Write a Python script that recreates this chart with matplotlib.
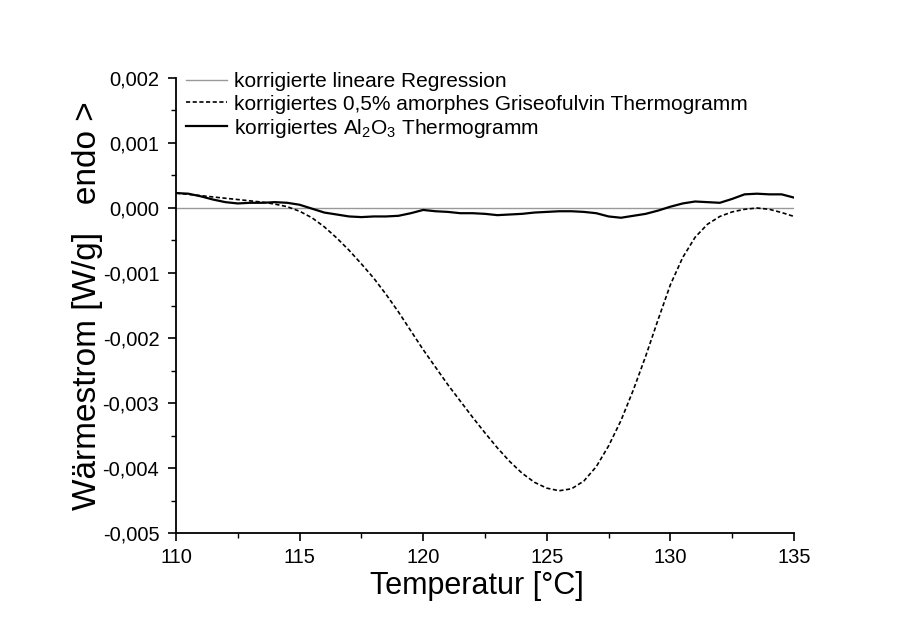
import matplotlib
matplotlib.use("Agg")
import matplotlib.pyplot as plt
from matplotlib.ticker import FuncFormatter, MultipleLocator

plt.rcParams["font.family"] = ["Liberation Sans", "DejaVu Sans"]
plt.rcParams["mathtext.fontset"] = "custom"
plt.rcParams["mathtext.rm"] = "Liberation Sans"
plt.rcParams["mathtext.it"] = "Liberation Sans:italic"

# Temperatur [°C] / Wärmestrom [W/g]
regression_T = [110.0, 135.0]
regression_q = [0.0, 0.0]

griseo_T = [110.0, 110.5, 111.0, 111.5, 112.0, 112.5, 113.0, 113.5, 114.0, 114.5,
            115.0, 115.5, 116.0, 116.5, 117.0, 117.5, 118.0, 118.5, 119.0, 119.5,
            120.0, 120.5, 121.0, 121.5, 122.0, 122.5, 123.0, 123.5, 124.0, 124.5,
            125.0, 125.5, 126.0, 126.5, 127.0, 127.5, 128.0, 128.5, 129.0, 129.5,
            130.0, 130.5, 131.0, 131.5, 132.0, 132.5, 133.0, 133.5, 134.0, 134.5,
            135.0]
griseo_q = [0.00023, 0.00021, 0.00019, 0.00017, 0.00015, 0.00013, 0.00011, 0.00009, 0.00006, 0.00002,
            -0.00005, -0.00015, -0.00029, -0.00046, -0.00065, -0.00086, -0.00108, -0.00133, -0.00160, -0.00189,
            -0.00218, -0.00245, -0.00272, -0.00297, -0.00322, -0.00346, -0.00369, -0.00390, -0.00408, -0.00422,
            -0.00431, -0.00435, -0.00432, -0.00420, -0.00398, -0.00366, -0.00327, -0.00280, -0.00228, -0.00172,
            -0.00118, -0.00076, -0.00045, -0.00025, -0.00013, -0.00006, -0.00002, 0.00000, -0.00002, -0.00007,
            -0.00013]

al2o3_T = [110.0, 110.5, 111.0, 111.5, 112.0, 112.5, 113.0, 113.5, 114.0, 114.5,
           115.0, 115.5, 116.0, 116.5, 117.0, 117.5, 118.0, 118.5, 119.0, 119.5,
           120.0, 120.5, 121.0, 121.5, 122.0, 122.5, 123.0, 123.5, 124.0, 124.5,
           125.0, 125.5, 126.0, 126.5, 127.0, 127.5, 128.0, 128.5, 129.0, 129.5,
           130.0, 130.5, 131.0, 131.5, 132.0, 132.5, 133.0, 133.5, 134.0, 134.5,
           135.0]
al2o3_q = [0.00023, 0.00022, 0.00018, 0.00013, 0.00009, 0.00007, 0.00008, 0.00008, 0.00009, 0.00008,
           0.00005, -0.00001, -0.00007, -0.00010, -0.00013, -0.00014, -0.00013, -0.00013, -0.00012, -0.00008,
           -0.00003, -0.00005, -0.00006, -0.00008, -0.00008, -0.00009, -0.00011, -0.00010, -0.00009, -0.00007,
           -0.00006, -0.00005, -0.00005, -0.00006, -0.00008, -0.00013, -0.00015, -0.00012, -0.00009, -0.00004,
           0.00002, 0.00007, 0.00010, 0.00009, 0.00008, 0.00014, 0.00021, 0.00022, 0.00021, 0.00021,
           0.00016]

labels = ["korrigierte lineare Regression",
          "korrigiertes 0,5% amorphes Griseofulvin Thermogramm",
          "korrigiertes Al$_2$O$_3$ Thermogramm"]

fig = plt.figure(figsize=(9.12, 6.17), dpi=100)
ax = fig.add_axes([176 / 912, 1 - 533 / 617, 618 / 912, 455 / 617])

ax.plot(regression_T, regression_q, color="#999999", lw=1.0, label=labels[0])
ax.plot(griseo_T, griseo_q, color="black", lw=1.2, ls=(0, (2.5, 1.5)), label=labels[1])
ax.plot(al2o3_T, al2o3_q, color="black", lw=1.6, label=labels[2])

ax.set_xlim(110, 135)
ax.set_ylim(-0.005, 0.002)
ax.xaxis.set_major_locator(MultipleLocator(5))
ax.xaxis.set_minor_locator(MultipleLocator(2.5))
ax.yaxis.set_major_locator(MultipleLocator(0.001))
ax.yaxis.set_minor_locator(MultipleLocator(0.0005))
ax.yaxis.set_major_formatter(FuncFormatter(lambda v, p: f"{v:.3f}".replace(".", ",").replace("-0,000", "0,000")))

for side in ("top", "right"):
    ax.spines[side].set_visible(False)
for side in ("left", "bottom"):
    ax.spines[side].set_linewidth(1.3)
ax.tick_params(which="major", direction="out", length=6, width=1.2, labelsize=14.5)
ax.tick_params(axis="y", which="major", pad=6)
ax.tick_params(axis="x", which="major", pad=5)
ax.tick_params(which="minor", direction="out", length=3.5, width=1.0)

ax.set_xlabel("Temperatur [°C]", fontsize=22)
ax.set_ylabel("Wärmestrom [W/g]   endo >", fontsize=24)
ax.xaxis.set_label_coords(0.487, -0.084)
ax.yaxis.set_label_coords(-0.118, 0.5)

ax.legend(loc="upper left", bbox_to_anchor=(0.0, 1.035), frameon=False, fontsize=15,
          handlelength=1.95, handletextpad=0.34, labelspacing=0.15, borderaxespad=0.3,
          borderpad=0.2)

fig.savefig("out.png", dpi=100)
